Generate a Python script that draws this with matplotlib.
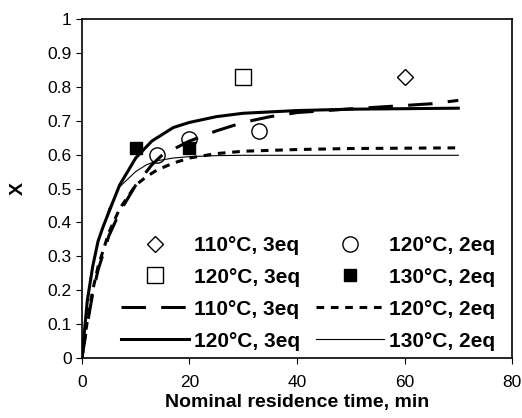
import matplotlib
matplotlib.use('Agg')
from matplotlib import pyplot as plt

plt.rcParams['font.family'] = ['Liberation Sans', 'DejaVu Sans']

# experimental points
t_110_3 = [60]
x_110_3 = [0.83]
t_120_3 = [30]
x_120_3 = [0.83]
t_120_2 = [14, 20, 33]
x_120_2 = [0.60, 0.645, 0.67]
t_130_2 = [10, 20]
x_130_2 = [0.62, 0.62]

# model curves
tm_110_3 = [0, 1, 2, 3, 5, 7, 10, 13, 15, 20, 25, 30, 35, 40, 50, 60, 65, 70]
xm_110_3 = [0, 0.10, 0.19, 0.26, 0.36, 0.43, 0.51, 0.57, 0.60, 0.64, 0.67, 0.695, 0.712, 0.724, 0.735, 0.745, 0.75, 0.76]
tm_120_2 = [0, 1, 2, 3, 5, 7, 10, 12, 14, 17, 20, 25, 30, 40, 50, 70]
xm_120_2 = [0, 0.11, 0.20, 0.27, 0.37, 0.44, 0.51, 0.535, 0.555, 0.575, 0.59, 0.603, 0.61, 0.615, 0.618, 0.62]
tm_120_3 = [0, 1, 2, 3, 4, 5, 7, 10, 13, 17, 20, 25, 30, 40, 50, 70]
xm_120_3 = [0, 0.17, 0.27, 0.345, 0.39, 0.43, 0.51, 0.59, 0.64, 0.68, 0.695, 0.712, 0.722, 0.73, 0.734, 0.737]
tm_130_2 = [0, 1, 2, 3, 5, 7, 10, 12, 14, 17, 20, 25, 30, 40, 70]
xm_130_2 = [0, 0.16, 0.27, 0.34, 0.44, 0.505, 0.55, 0.57, 0.582, 0.59, 0.594, 0.597, 0.598, 0.598, 0.598]

fig = plt.figure(figsize=(5.22, 4.18), dpi=100)
ax = fig.add_axes([0.157, 0.1435, 0.824, 0.811])

d1, = ax.plot(t_110_3, x_110_3, 'D', ms=8, mfc='white', mec='black', mew=1.0, label='110°C, 3eq')
s1, = ax.plot(t_120_3, x_120_3, 's', ms=11, mfc='white', mec='black', mew=1.0, label='120°C, 3eq')
c1, = ax.plot(t_120_2, x_120_2, 'o', ms=11, mfc='white', mec='black', mew=1.0, label='120°C, 2eq')
f1, = ax.plot(t_130_2, x_130_2, 's', ms=9, mfc='black', mec='black', label='130°C, 2eq')

l1, = ax.plot(tm_110_3, xm_110_3, color='black', lw=2.2, dashes=(8, 5), label='110°C, 3eq')
l2, = ax.plot(tm_120_2, xm_120_2, color='black', lw=2.2, dashes=(2.5, 2.2), label='120°C, 2eq')
l3, = ax.plot(tm_120_3, xm_120_3, color='black', lw=2.2, label='120°C, 3eq')
l4, = ax.plot(tm_130_2, xm_130_2, color='black', lw=0.8, label='130°C, 2eq')

ax.set_xlim(0, 80)
ax.set_ylim(0, 1)
ax.set_xticks([0, 20, 40, 60, 80])
ax.set_yticks([0, 0.1, 0.2, 0.3, 0.4, 0.5, 0.6, 0.7, 0.8, 0.9, 1])
ax.set_yticklabels(['0', '0.1', '0.2', '0.3', '0.4', '0.5', '0.6', '0.7', '0.8', '0.9', '1'])
ax.tick_params(labelsize=12.5, direction='out', length=4)
ax.tick_params(axis='x', pad=8)
for sp in ax.spines.values():
    sp.set_linewidth(1.2)

ax.set_xlabel('Nominal residence time, min', fontsize=14, fontweight='bold', labelpad=3)
ax.set_ylabel('X', fontsize=14, fontweight='bold', labelpad=15)

handles = [d1, s1, l1, l3, c1, f1, l2, l4]
ax.legend(handles=handles, labels=[h.get_label() for h in handles], ncol=2,
          frameon=False, prop={'weight': 'bold', 'size': 15},
          handlelength=3.27, handletextpad=0.24, columnspacing=0.75, labelspacing=0.62,
          loc='lower right', bbox_to_anchor=(0.99, -0.015), borderaxespad=0.2)

fig.savefig('out.png', dpi=100)
